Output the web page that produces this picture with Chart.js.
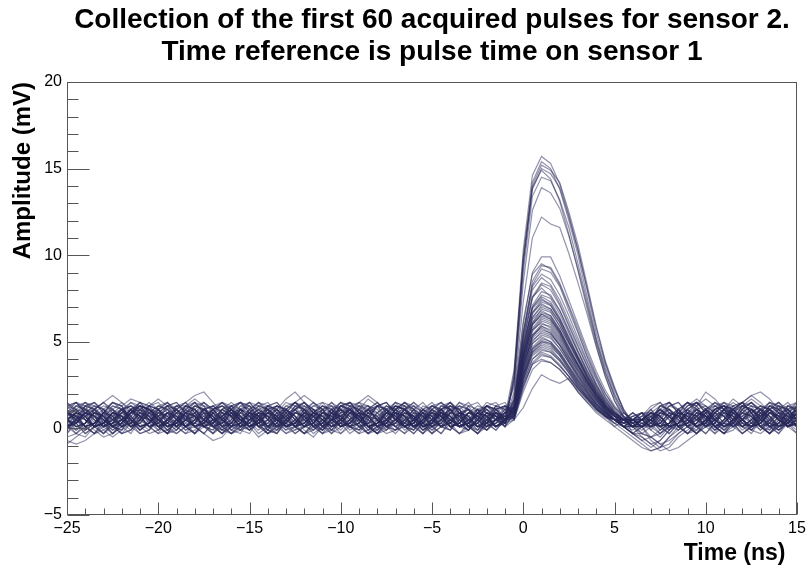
<!DOCTYPE html>
<html>
<head>
<meta charset="utf-8">
<title>Sensor 2 pulses</title>
<script src="https://cdn.jsdelivr.net/npm/chart.js@4.4.1/dist/chart.umd.min.js"></script>
<style>
  html, body { margin: 0; padding: 0; background: #fff; }
  #wrap { width: 810px; height: 567px; }
</style>
</head>
<body>
<div id="wrap"><canvas id="c" width="810" height="567"></canvas></div>
<script>
// Sampling times (ns), shared by every trace. Reference time = pulse time on sensor 1.
const TIME_NS = [
  -25,-24.5,-24,-23.5,-23,-22.5,-22,-21.5,-21,-20.5,
  -20,-19.5,-19,-18.5,-18,-17.5,-17,-16.5,-16,-15.5,
  -15,-14.5,-14,-13.5,-13,-12.5,-12,-11.5,-11,-10.5,
  -10,-9.5,-9,-8.5,-8,-7.5,-7,-6.5,-6,-5.5,
  -5,-4.5,-4,-3.5,-3,-2.5,-2,-1.5,-1,-0.5,
  0,0.5,1,1.5,2,2.5,3,3.5,4,4.5,
  5,5.5,6,6.5,7,7.5,8,8.5,9,9.5,
  10,10.5,11,11.5,12,12.5,13,13.5,14,14.5,15,
];

// Amplitudes (mV), one array per acquired pulse.
// each row: 49 baseline samples | 15 pulse samples (-0.5..6.5 ns) | 17 tail samples
const SENSOR2_PULSES = [
  [0.3,0.7,1.1,0.9,0.5,0.1,-0.1,0.3,0.9,1.3, 1.1,0.7,0.3,0.1,0.5,0.7,0.3,-0.1,-0.3,0.1, 0.7,1.1,1.3,0.9,0.3,0.1,0.5,0.9,0.7,0.3, 0.5,1.1,1.3,0.9,0.5,0.3,-0.1,0.1,0.7,0.9, 0.5,0.1,0.3,0.7,1.1,0.7,0.3,0.5,0.7,
   3.4,10.3,14.6,15.7,15.3,14.1,12.3,10.3,8.0,5.5,3.7,2.2,1.1,0.3,-0.1,
   0.3,0.9,1.1,0.7,0.1,-0.1,0.5,1.1,1.3,0.9,0.3,0.1,0.7,1.1,0.5,0.1,0.3],
  [0.9,0.5,0.1,-0.3,0.1,0.7,1.1,1.3,0.9,0.5, 0.5,0.9,0.3,-0.1,0.1,0.5,1.1,1.5,1.1,0.5, 0.1,0.3,0.9,0.7,0.3,-0.1,0.1,0.7,1.1,0.9, 0.3,0.1,0.5,1.1,1.3,0.7,0.3,0.1,0.5,0.9, 1.3,0.9,0.3,0.1,0.3,0.7,1.1,0.7,0.3,
   3.0,9.8,14.2,15.4,15.0,13.8,12.0,10.0,7.6,5.2,3.5,2.0,0.9,0.5,0.1,
   0.7,1.1,0.5,0.1,-0.3,-0.1,0.5,0.9,1.3,0.9,0.7,1.1,0.9,0.3,0.1,0.5,1.1],
  [0.1,0.3,0.9,1.3,1.1,0.5,0.1,0.3,0.7,0.5, 0.1,-0.3,-0.1,0.5,0.9,1.1,0.7,0.9,1.3,0.9, 0.5,0.3,0.1,0.7,1.1,0.5,0.3,0.7,1.3,1.1, 0.5,0.1,-0.1,0.3,0.9,1.3,0.9,0.3,0.1,0.5, 0.9,0.7,0.3,0.1,0.5,1.1,0.9,0.5,0.3,
   2.8,9.4,14.0,15.2,14.9,14.2,12.5,10.6,8.3,5.9,3.9,2.4,1.0,0.1,-0.5,
   -0.9,-1.3,-1.1,-0.5,-0.1,0.3,0.7,0.5,0.9,1.1,0.5,0.1,0.7,1.3,0.9,0.3,0.5],
  [0.5,0.1,-0.1,0.3,0.9,1.1,0.7,0.3,0.5,1.1, 0.9,0.3,0.1,0.5,0.7,0.3,0.1,0.7,1.3,1.5, 1.1,0.5,-0.1,-0.3,0.3,0.9,0.7,0.5,0.1,0.3, 0.9,1.1,0.7,0.1,0.3,0.7,1.3,1.1,0.5,0.3, 0.1,0.5,1.1,0.9,0.3,0.1,0.7,0.9,0.3,
   3.2,9.9,13.9,14.9,14.4,13.1,11.2,9.1,6.9,4.8,3.0,1.6,0.6,0.1,0.5,
   0.9,0.7,0.1,0.3,0.9,1.1,0.7,0.1,0.3,0.9,0.5,-0.1,-0.3,0.1,0.7,1.1,0.7],
  [-0.9,-0.5,-0.1,0.3,0.1,0.5,0.9,0.5,0.1,0.3, 0.9,1.3,1.1,0.5,0.3,0.1,0.5,1.1,0.7,0.1, 0.3,0.9,1.1,0.7,0.1,0.3,0.5,0.9,1.3,0.9, 0.3,0.1,0.7,1.1,0.5,0.1,-0.1,0.3,0.9,0.7, 0.5,0.1,0.3,0.9,1.1,0.7,0.3,0.5,0.7,
   2.6,9.0,13.4,14.5,14.3,13.2,11.6,9.5,7.3,5.1,3.3,1.8,0.7,-0.3,-0.7,
   -1.1,-0.7,-0.1,0.3,0.7,1.1,0.5,0.1,0.5,1.1,1.3,0.9,0.3,0.1,0.7,0.5,0.9],
  [0.7,1.1,0.9,0.5,0.1,0.3,0.5,1.1,0.7,0.1, -0.3,-0.1,0.5,0.9,1.1,0.5,0.3,0.7,1.1,1.5, 1.3,0.7,0.1,0.1,0.5,0.9,0.7,0.1,0.3,0.9, 0.5,0.7,1.1,1.3,0.9,0.3,0.1,0.5,0.7,0.3, 0.5,0.9,0.5,0.1,0.3,0.9,0.7,0.5,0.9,
   2.4,8.4,12.6,13.9,13.6,12.7,11.1,9.2,7.1,5.0,3.2,1.9,0.9,0.5,0.1,
   0.3,0.9,1.3,1.1,0.5,0.1,0.3,0.9,0.7,0.1,0.5,0.7,1.1,0.7,0.1,0.3,0.9],
  [0.1,0.5,1.1,0.7,0.3,-0.1,0.3,0.9,1.3,1.1, 0.5,0.1,0.3,0.7,0.9,0.5,0.1,-0.3,0.1,0.7, 0.5,0.9,0.7,0.1,0.3,1.1,1.5,1.1,0.5,0.1, 0.3,0.9,0.7,0.3,0.1,0.5,0.9,1.1,0.5,-0.1, 0.1,0.7,1.1,0.5,0.1,0.5,0.7,0.9,0.5,
   2.1,7.3,11.0,12.2,11.8,11.6,10.1,8.4,6.6,4.7,3.0,1.6,0.7,0.1,0.1,
   0.7,1.1,0.5,-0.1,0.3,0.9,0.7,0.1,0.3,0.9,1.3,1.1,0.5,0.3,0.1,0.7,1.1],
  [0.5,0.3,0.7,1.1,1.5,1.9,1.5,0.9,1.1,0.7, 0.3,0.1,0.5,0.9,0.7,0.1,0.3,0.7,1.1,0.5, 0.3,0.9,0.7,0.1,-0.3,0.1,0.7,1.1,0.9,0.5, 0.1,0.3,0.9,0.7,0.5,0.1,0.5,1.1,1.3,0.9, 0.3,0.1,0.5,0.9,0.7,0.1,0.1,0.5,0.7,
   1.6,6.0,9.0,9.9,9.9,8.8,7.4,6.0,4.6,3.3,2.2,1.3,0.7,0.5,0.1,
   0.5,0.9,0.7,0.1,0.5,1.3,2.1,1.7,1.1,0.9,0.5,0.1,0.3,0.9,0.5,0.1,0.5],
  [0.9,0.7,0.5,0.1,0.3,0.9,0.5,0.1,-0.3,-0.1, 0.5,0.9,1.3,1.1,0.5,0.1,0.3,0.9,0.7,0.5, 0.1,0.5,0.9,1.3,1.1,0.7,0.1,-0.1,0.3,0.9, 0.7,0.3,0.5,1.1,0.9,0.5,0.1,-0.3,0.1,0.5, 1.1,0.7,0.1,0.3,0.9,1.3,1.1,0.5,0.1,
   1.9,6.2,8.9,9.5,9.2,8.3,7.0,5.6,4.2,3.0,2.0,1.2,0.6,0.5,0.5,
   0.1,0.7,1.1,0.5,0.3,0.5,0.9,1.1,0.7,0.1,-0.3,0.1,0.7,1.1,1.3,0.9,0.3],
  [0.1,0.3,0.9,1.1,0.7,0.1,0.5,0.3,0.9,0.7, 0.1,0.5,1.1,0.7,0.1,-0.3,-0.7,-0.5,0.1,0.7, 0.9,0.5,0.3,0.1,0.7,1.1,1.3,0.9,0.3,0.1, 0.5,1.1,0.7,0.1,0.3,0.5,0.9,0.7,0.1,0.3, 0.9,1.1,0.5,0.1,0.3,0.9,0.7,0.1,0.5,
   1.4,5.4,8.3,9.2,9.0,8.2,6.8,5.5,4.1,2.9,1.8,1.0,0.5,0.1,0.5,
   0.9,0.3,0.1,-0.1,0.5,1.1,0.7,0.5,0.1,0.5,0.9,1.3,1.1,0.5,0.1,0.3,0.7],
  [-0.5,-0.3,0.1,0.7,1.1,0.7,0.1,0.3,0.9,0.5, 0.7,1.1,1.3,0.9,0.3,0.1,-0.1,0.5,1.1,0.7, 0.1,0.3,0.9,1.1,0.5,0.1,0.7,0.9,0.5,-0.1, -0.3,0.1,0.7,1.1,1.5,1.1,0.5,0.3,0.1,0.7, 0.9,0.5,0.1,0.3,0.7,1.1,0.5,0.1,0.3,
   1.5,5.3,8.0,8.7,8.3,7.4,6.2,5.0,3.8,2.6,1.7,1.0,0.5,0.5,0.9,
   0.7,0.1,0.3,0.9,0.7,0.1,0.5,1.1,1.3,0.7,0.3,0.1,0.5,1.1,0.7,0.5,0.1],
  [0.5,0.9,0.7,0.1,0.3,0.7,1.1,1.3,0.9,0.3, 0.1,0.5,0.9,0.7,0.1,0.3,0.9,1.1,0.7,0.1, 0.3,0.7,0.9,0.5,0.1,-0.3,0.1,0.7,1.1,0.5, 0.7,1.1,1.5,1.9,1.5,0.9,0.5,0.1,0.5,1.1, 0.7,0.1,-0.1,0.5,0.9,0.7,0.3,0.1,0.5,
   1.2,4.9,7.6,8.4,8.2,7.2,6.0,4.8,3.6,2.5,1.6,0.9,0.5,0.1,0.1,
   0.3,0.9,0.7,0.1,0.5,1.1,0.7,0.1,-0.3,0.1,0.7,1.1,0.5,0.1,0.3,0.9,1.3],
  [1.3,1.1,0.5,0.1,0.3,0.9,0.7,0.5,0.1,0.3, 0.9,0.7,0.1,0.5,1.1,1.5,1.1,0.5,0.1,-0.1, 0.5,0.9,0.7,0.1,0.3,0.9,1.1,0.7,0.1,0.5, 1.1,0.7,0.1,0.3,0.5,0.9,1.3,1.1,0.5,0.1, 0.3,0.9,0.7,0.1,0.5,1.1,0.9,0.5,0.3,
   1.7,5.2,7.6,8.1,7.6,6.8,5.7,4.5,3.4,2.4,1.5,0.9,0.5,0.5,0.5,
   0.9,0.7,0.1,0.3,0.5,1.1,1.3,0.9,0.3,0.1,0.5,1.1,0.7,0.1,-0.1,0.3,0.9],
  [0.1,-0.1,0.3,0.9,0.7,0.1,0.5,1.1,1.3,1.1, 0.5,0.3,0.1,0.7,0.9,0.5,0.1,0.3,0.9,1.1, 0.7,0.1,-0.3,-0.1,0.5,0.9,0.7,0.1,0.3,0.9, 1.3,1.1,0.5,0.1,0.3,0.9,0.7,0.3,0.9,0.7, 0.1,0.5,0.9,1.3,1.1,0.5,0.1,0.3,0.5,
   1.1,4.6,7.1,7.9,7.7,6.8,5.6,4.4,3.3,2.3,1.4,0.8,0.1,-0.3,0.1,
   -0.7,-1.1,-0.9,-0.3,0.1,0.7,1.1,0.5,0.1,0.5,0.9,0.7,0.1,0.3,0.9,1.1,0.5],
  [0.5,0.3,0.9,0.7,0.1,0.5,1.1,0.7,0.1,-0.3, -0.1,0.5,0.9,1.3,1.1,0.5,0.1,0.3,0.7,0.9, 0.5,0.1,0.5,1.1,1.7,2.1,1.5,0.9,0.7,0.9, 1.1,0.9,0.5,0.1,0.3,0.9,0.7,0.1,0.5,1.1, 0.9,0.5,0.1,0.3,0.9,0.7,0.1,0.5,0.9,
   1.4,4.7,7.0,7.6,7.3,6.4,5.3,4.2,3.2,2.2,1.4,0.9,0.5,0.5,0.9,
   0.5,0.1,0.3,0.9,0.7,0.5,0.1,0.5,1.1,1.3,0.9,0.3,0.1,0.5,0.9,0.7,0.1],
  [0.9,1.3,1.1,0.5,0.1,0.3,0.9,0.7,0.1,0.3, 0.7,0.9,0.5,0.1,0.5,1.1,1.3,0.9,0.3,-0.1, 0.1,0.7,0.9,0.5,0.1,0.3,1.1,0.7,0.5,0.1, 0.5,1.1,0.7,0.1,-0.3,-0.1,0.5,0.9,0.7,0.1, 0.3,0.9,1.3,1.1,0.5,0.1,0.3,0.9,0.5,
   1.0,4.3,6.7,7.4,7.2,6.3,5.2,4.1,3.0,2.1,1.3,0.7,0.5,0.1,0.5,
   0.1,0.5,1.1,0.7,0.1,0.3,0.9,1.3,1.1,0.5,0.7,0.3,0.5,1.1,0.7,0.1,0.3],
  [0.1,0.5,0.9,0.7,0.1,0.3,0.5,1.1,0.7,0.1, 0.3,0.9,1.1,1.5,1.9,2.1,1.5,0.9,0.7,1.1, 0.7,0.3,0.7,0.5,0.1,0.3,0.9,0.7,0.1,0.5, 0.7,1.1,0.5,0.1,0.3,0.9,0.7,0.1,-0.1,0.5, 0.9,0.7,0.1,0.3,0.9,1.1,0.7,0.1,0.5,
   1.3,4.5,6.7,7.2,6.9,6.1,5.0,4.0,3.0,2.0,1.3,0.8,0.5,0.5,0.1,
   0.5,0.9,0.7,0.1,0.3,0.9,0.7,0.1,0.5,1.1,1.5,1.9,2.1,1.7,1.1,0.7,0.5],
  [0.5,0.1,0.3,0.9,1.3,1.1,0.5,0.1,0.7,0.9, 0.3,-0.1,-0.3,0.1,0.7,1.1,0.5,0.3,0.9,0.7, 0.1,0.5,1.1,1.3,0.9,0.3,0.1,0.5,0.9,0.7, 0.1,0.3,0.7,1.1,0.5,0.1,0.5,1.1,1.5,1.1, 0.5,0.1,0.3,0.9,0.7,0.1,0.5,0.7,0.9,
   1.2,4.2,6.4,7.0,6.8,5.9,4.9,3.9,2.9,2.0,1.2,0.5,0.1,-0.3,-0.7,
   -0.5,-0.1,0.3,0.7,1.1,0.7,0.1,0.3,0.9,0.7,0.1,0.5,1.1,1.3,0.9,0.3,0.1],
  [0.9,0.7,0.1,0.3,0.9,0.5,0.7,0.1,0.3,0.9, 1.3,1.1,0.5,0.1,0.5,0.9,0.7,0.1,0.3,0.5, 1.1,0.7,0.1,0.3,0.9,1.1,0.5,0.1,-0.3,-0.1, 0.5,1.1,0.7,0.1,0.3,0.9,1.3,1.1,0.5,0.7, 0.1,0.3,0.9,0.7,0.1,0.5,1.1,0.7,0.1,
   0.9,3.9,6.1,6.9,6.7,5.9,4.9,3.9,2.9,2.0,1.3,0.9,0.5,0.9,0.5,
   0.5,1.1,0.7,0.1,0.3,0.7,1.1,0.5,0.1,0.5,0.9,0.7,0.1,-0.3,0.1,0.7,1.1],
  [0.5,0.9,1.3,1.1,0.5,0.1,0.3,0.9,0.7,0.1, 0.5,0.7,1.1,0.5,0.1,0.3,0.9,0.5,-0.1,0.3, 0.9,1.3,1.1,0.5,0.7,0.1,0.3,0.9,0.7,0.1, 0.5,0.9,1.1,0.7,0.1,0.3,0.9,0.5,0.1,0.5, 0.7,1.1,0.5,0.1,0.3,0.9,1.3,1.1,0.5,
   1.3,4.3,6.3,6.8,6.5,5.7,4.7,3.7,2.8,1.9,1.2,0.7,0.5,0.5,0.1,
   0.1,0.3,0.7,1.1,0.5,0.1,0.5,1.1,0.7,0.1,0.3,0.9,1.3,1.1,0.5,0.1,0.7],
  [0.1,0.3,0.7,1.1,0.7,0.1,0.5,0.9,1.1,0.5, 0.1,0.3,0.9,0.7,0.1,0.5,1.1,1.3,0.9,0.5, 0.7,0.1,0.3,0.9,0.5,0.1,-0.3,-0.1,0.5,1.1, 0.7,0.1,0.3,0.9,1.3,1.1,0.5,0.1,0.3,0.9, 0.5,0.7,0.1,0.3,0.9,0.7,0.1,0.5,0.9,
   1.0,4.0,6.0,6.6,6.4,5.6,4.6,3.7,2.7,1.9,1.2,0.7,0.1,0.1,0.5,
   0.7,0.1,0.3,0.9,1.3,1.7,1.3,0.9,0.3,0.1,0.5,1.1,0.7,0.1,0.3,0.9,0.5],
  [0.5,0.9,0.7,0.1,0.3,0.9,1.3,1.7,1.5,0.9, 0.5,0.1,0.3,0.9,0.7,0.1,0.5,0.5,1.1,0.7, 0.1,0.3,0.9,0.7,0.1,0.5,1.1,0.9,0.5,-0.1, 0.3,0.9,0.7,0.1,0.3,0.5,1.1,1.3,0.9,0.3, 0.1,0.5,1.1,0.7,0.1,0.3,0.9,0.7,0.5,
   1.2,4.2,6.0,6.5,6.3,5.5,4.5,3.6,2.7,1.9,1.2,0.8,0.5,0.5,0.1,
   0.9,0.5,0.1,0.3,0.9,0.7,0.1,0.5,1.1,0.9,0.3,0.1,0.5,1.1,1.5,1.1,0.5],
  [0.9,0.5,0.1,0.3,0.7,1.1,0.5,0.1,0.3,0.9, 1.1,0.5,0.1,-0.3,-0.1,0.5,0.9,0.7,0.1,0.3, 0.9,1.3,1.1,0.5,0.1,0.3,0.9,0.7,0.1,0.5, 0.7,1.1,0.5,0.1,0.3,0.9,0.7,0.1,0.5,1.1, 1.3,0.9,0.3,0.1,0.5,0.7,1.1,0.5,0.1,
   0.9,3.7,5.7,6.3,6.1,5.4,4.4,3.5,2.6,1.8,1.1,0.5,0.1,-0.3,-0.3,
   -0.5,-0.9,-1.3,-1.1,-0.7,-0.3,0.1,0.7,1.1,0.5,0.1,0.3,0.9,0.7,0.1,0.5,0.9],
  [0.5,0.1,0.3,0.9,0.7,0.1,0.3,0.9,1.3,1.1, 0.5,0.1,0.3,0.9,1.1,0.7,0.1,0.5,0.9,0.3, -0.1,0.3,0.5,1.1,0.7,0.1,0.3,0.9,1.3,0.9, 0.5,0.1,0.3,0.9,0.7,0.1,-0.1,0.5,1.1,0.7, 0.3,0.9,0.7,0.1,0.3,0.9,0.5,0.1,0.5,
   1.1,3.9,5.7,6.1,5.8,5.1,4.2,3.3,2.5,1.7,1.1,0.7,0.5,0.9,0.5,
   0.3,0.1,0.7,1.1,0.5,0.1,0.3,0.9,1.3,1.1,0.5,0.1,0.3,0.9,1.1,0.7,0.1],
  [-0.7,-0.9,-0.7,-0.3,-0.1,0.3,0.7,1.1,0.5,0.1, 0.3,0.9,0.7,0.5,0.1,0.3,0.9,1.3,1.1,0.5, 0.1,0.3,0.9,0.7,0.1,0.5,0.5,1.1,0.7,0.1, 0.3,0.9,1.3,1.1,0.5,0.1,0.3,0.9,0.7,0.1, 0.5,0.7,1.1,0.5,0.1,0.3,0.9,0.7,0.5,
   0.8,3.5,5.4,6.0,5.9,5.2,4.3,3.4,2.5,1.7,1.0,0.5,0.5,0.1,0.5,
   0.9,0.7,0.1,0.3,0.9,0.5,0.7,0.1,0.3,0.9,1.3,1.1,0.5,0.1,0.3,0.9,0.7],
  [0.9,0.7,0.5,0.1,0.3,0.9,0.7,0.1,0.3,0.9, 1.3,1.1,0.5,0.1,0.3,0.7,1.1,0.5,0.1,0.3, 0.9,0.7,0.1,0.5,1.1,1.5,1.9,1.5,0.9,0.5, 0.1,0.3,0.9,0.7,0.1,0.5,1.1,0.7,0.5,0.1, 0.3,0.9,0.7,0.1,0.3,0.9,1.3,1.1,0.5,
   1.0,3.6,5.3,5.9,5.6,4.9,4.1,3.2,2.4,1.6,1.0,0.5,0.1,0.5,0.5,
   0.5,0.1,0.3,0.9,0.7,0.1,0.5,0.7,1.1,0.5,0.1,0.3,0.9,0.7,0.1,0.5,1.1],
  [0.1,0.3,0.9,0.7,0.1,0.5,0.9,1.1,0.5,0.1, 0.3,0.9,0.7,0.1,0.5,1.1,0.7,0.1,-0.3,-0.1, 0.5,1.1,0.7,0.5,0.1,0.3,0.9,1.3,1.1,0.5, 0.1,0.3,0.9,0.7,0.1,0.5,1.1,0.7,0.1,0.3, 0.9,0.7,0.5,0.1,0.3,0.9,0.7,0.1,0.5,
   1.1,3.7,5.4,5.8,5.5,4.8,3.9,3.1,2.3,1.6,1.0,0.5,0.5,0.5,0.9,
   0.9,1.3,1.1,0.5,0.1,0.3,0.9,0.7,0.1,0.5,1.1,0.7,0.1,0.3,0.9,0.7,0.5],
  [0.5,0.9,0.7,0.1,0.3,0.5,1.1,0.7,0.1,0.3, 0.9,1.3,1.1,0.5,0.1,0.3,0.9,0.5,0.1,0.5, 0.7,1.1,0.5,0.1,0.3,0.9,0.7,0.1,0.5,1.1, 1.3,0.9,0.5,0.7,0.1,0.3,0.9,0.7,0.1,0.5, 1.1,0.7,0.1,-0.3,-0.1,0.5,0.9,0.7,0.5,
   0.7,3.2,5.0,5.6,5.4,4.8,3.9,3.0,2.2,1.5,0.9,0.5,0.1,0.1,0.5,
   0.1,0.3,0.9,0.7,0.1,0.5,1.1,1.3,0.9,0.3,0.1,0.5,0.7,1.1,0.5,0.1,0.3],
  [0.9,0.5,0.1,0.3,0.9,1.3,1.1,0.5,0.1,0.3, 0.7,1.1,0.5,0.1,0.3,0.9,0.7,0.1,0.5,1.1, 0.9,0.5,0.1,0.3,0.9,0.7,0.1,0.5,0.7,1.1, 0.5,0.1,0.3,0.9,1.3,1.1,0.5,0.1,0.3,0.9, 0.7,0.1,0.5,0.7,1.1,0.5,0.1,0.3,0.9,
   1.0,3.5,5.1,5.5,5.3,4.6,3.8,3.0,2.2,1.5,0.9,0.5,0.5,0.1,0.1,
   0.5,1.1,0.7,0.1,0.3,0.9,0.7,0.1,-0.3,-0.1,0.5,1.1,0.7,0.1,0.3,0.9,1.3],
  [0.5,0.7,0.1,0.3,0.9,0.7,0.1,0.5,1.1,0.9, 0.5,0.1,0.3,0.9,1.3,1.1,0.5,0.1,0.3,0.9, 0.7,0.1,0.5,0.5,1.1,0.7,0.1,0.3,0.9,0.7, 0.1,0.5,0.9,1.1,0.5,0.1,0.3,0.9,0.7,0.1, 0.5,1.1,1.3,0.9,0.5,0.1,0.3,0.9,0.7,
   0.8,3.2,4.9,5.4,5.2,4.6,3.8,2.9,2.1,1.4,0.9,0.5,0.1,-0.3,0.1,
   -0.5,-0.3,0.1,0.7,1.1,0.5,0.1,0.3,0.9,0.7,0.1,0.5,1.1,0.9,0.5,0.1,0.3],
  [0.1,0.5,0.9,0.7,0.1,0.3,0.9,1.3,1.1,0.5, 0.1,0.3,0.5,1.1,0.7,0.1,0.3,0.9,0.7,0.1, 0.5,0.9,1.3,1.1,0.5,0.1,0.3,0.9,0.7,0.5, 0.1,0.3,0.9,0.7,0.1,-0.3,-0.1,0.5,1.1,0.7, 0.1,0.3,0.9,0.7,0.5,0.1,0.3,0.9,0.7,
   0.9,3.3,4.9,5.3,5.0,4.4,3.6,2.8,2.1,1.4,0.9,0.5,0.5,0.5,0.5,
   0.9,0.7,0.1,0.3,0.9,1.3,1.7,1.3,0.9,0.3,0.1,0.5,1.1,0.7,0.1,0.3,0.9],
  [0.9,1.1,0.5,0.1,0.3,0.9,0.7,0.1,0.5,1.1, 0.7,0.1,0.3,0.9,1.3,1.1,0.5,0.7,0.1,0.3, 0.9,0.7,0.1,0.5,1.1,0.7,0.1,0.3,0.9,1.3, 1.1,0.5,0.1,0.3,0.7,1.1,0.5,0.1,0.3,0.9, 0.7,0.1,0.5,0.9,1.1,0.5,0.1,0.3,0.7,
   0.7,3.0,4.6,5.1,4.9,4.3,3.5,2.7,2.0,1.4,0.8,0.5,0.1,0.5,0.9,
   0.3,0.1,0.7,1.1,0.5,0.1,0.3,0.9,0.7,0.1,0.5,0.9,1.3,1.1,0.5,0.1,0.3],
  [0.5,0.1,0.3,0.9,0.7,0.1,-0.3,-0.1,0.5,1.1, 0.7,0.1,0.3,0.9,0.7,0.5,1.1,1.3,0.9,0.3, 0.1,0.5,1.1,0.7,0.1,0.3,0.9,0.7,0.1,0.5, 0.9,1.3,1.1,0.5,0.1,0.3,0.5,1.1,0.7,0.1, 0.3,0.9,0.7,0.1,0.5,0.9,1.3,1.1,0.5,
   0.9,3.1,4.6,5.0,4.8,4.2,3.4,2.6,1.9,1.3,0.8,0.5,0.5,0.1,0.5,
   0.1,0.3,0.9,0.7,0.5,0.1,0.3,0.9,1.3,1.1,0.5,0.1,0.3,0.9,0.7,0.1,0.5],
  [1.3,1.5,1.1,0.7,0.5,0.1,0.3,0.9,0.7,0.1, 0.3,0.9,0.7,0.1,0.5,1.1,1.3,0.9,0.3,0.1, 0.5,0.7,1.1,0.5,0.1,0.3,0.9,0.7,0.1,0.5, 1.1,0.7,0.1,0.3,0.9,1.3,1.1,0.5,0.1,0.3, 0.7,0.9,0.5,0.1,0.3,0.9,0.7,0.1,0.5,
   0.6,2.8,4.4,4.9,4.7,4.2,3.4,2.6,1.9,1.3,0.8,0.5,0.1,0.1,-0.3,
   -0.5,-0.9,-0.7,-0.3,0.1,0.7,1.1,0.5,0.1,0.3,0.9,1.3,1.1,0.5,0.1,0.3,0.9],
  [0.5,0.9,0.7,0.1,0.3,0.9,1.1,0.5,0.1,0.3, 0.9,0.7,0.1,0.5,0.7,1.1,0.5,0.1,0.3,0.9, 1.3,1.1,0.5,0.1,0.3,0.9,0.7,0.1,0.5,0.7, 1.1,0.5,0.1,-0.3,-0.1,0.5,0.9,0.7,0.1,0.3, 0.9,1.3,1.1,0.5,0.1,0.3,0.9,0.7,0.5,
   0.8,3.0,4.4,4.8,4.6,4.0,3.3,2.5,1.8,1.2,0.7,0.5,0.5,0.9,0.5,
   0.1,0.3,0.9,0.7,0.1,0.5,1.1,0.7,0.1,0.3,0.5,0.9,1.3,1.1,0.5,0.1,0.3],
  [0.1,0.3,0.9,0.7,0.5,0.1,0.3,0.9,1.3,1.1, 0.5,0.1,0.3,0.9,0.7,0.1,0.5,0.7,1.1,0.5, 0.1,0.3,0.9,1.3,1.1,0.5,0.1,0.3,0.9,0.7, 0.1,0.5,1.1,0.7,0.5,0.1,0.3,0.9,0.7,0.1, 0.5,1.1,0.7,0.1,0.3,0.9,0.7,0.1,0.5,
   0.7,2.8,4.2,4.6,4.4,3.9,3.2,2.4,1.8,1.2,0.7,0.1,-0.3,-0.7,-1.1,
   -1.3,-1.1,-0.5,-0.1,0.3,0.7,1.1,0.5,0.1,0.3,0.9,0.7,0.1,0.5,1.1,1.3,0.9],
  [0.9,0.7,0.1,0.3,0.9,0.7,0.1,0.5,1.1,1.3, 1.1,0.5,0.7,0.1,0.3,0.9,0.7,0.1,0.5,1.1, 0.7,0.1,0.3,0.9,1.1,0.5,0.1,0.3,0.9,0.7, 0.1,0.5,0.9,1.3,1.1,0.5,0.1,0.3,0.5,1.1, 0.7,0.1,0.3,0.9,0.7,0.1,0.5,0.9,0.7,
   0.6,2.6,4.0,4.4,4.2,3.7,3.0,2.3,1.7,1.1,0.7,0.5,0.5,0.1,0.5,
   0.5,1.1,0.7,0.1,0.3,0.9,0.7,0.1,0.5,1.1,1.5,1.9,1.5,0.9,0.5,0.1,0.3],
  [0.5,0.1,0.3,0.9,0.7,0.1,0.5,1.1,0.7,0.5, 0.1,0.3,0.9,1.3,1.1,0.5,0.1,0.3,0.9,0.7, 0.1,0.5,0.7,1.1,0.5,0.1,0.3,0.9,1.3,1.1, 0.5,0.1,0.3,0.9,0.7,0.1,0.5,1.1,0.7,0.1, 0.3,0.5,0.9,0.7,0.1,0.3,0.9,0.7,0.1,
   0.5,2.3,3.7,4.2,4.1,3.6,3.0,2.3,1.7,1.1,0.7,0.5,0.1,0.5,0.5,
   0.9,0.7,0.1,0.3,0.9,0.7,0.1,0.5,1.1,0.7,0.5,0.1,0.3,0.9,0.7,0.1,0.5],
  [0.1,0.5,0.9,1.3,1.1,0.5,0.1,0.3,0.9,0.7, 0.1,0.5,1.1,0.7,0.1,0.3,0.5,1.1,0.7,0.1, 0.3,0.9,0.7,0.1,0.5,1.1,1.5,1.1,0.5,0.1, 0.3,0.9,0.7,0.5,0.1,0.3,0.9,0.7,0.1,0.5, 1.1,0.7,0.1,0.3,0.9,0.7,0.5,0.1,0.3,
   0.7,2.5,3.7,4.0,3.8,3.4,2.8,2.1,1.5,1.0,0.6,0.5,0.9,0.5,0.1,
   0.5,0.1,0.3,0.9,0.7,0.1,0.5,1.1,1.3,1.1,0.5,0.1,0.3,0.9,0.7,0.1,0.5],
  [0.5,0.9,0.7,0.1,0.3,0.9,0.7,0.1,0.5,0.7, 1.1,0.5,0.1,0.3,0.9,1.3,1.1,0.5,0.1,0.3, 0.9,0.7,0.1,0.5,0.7,1.1,0.5,0.1,0.3,0.9, 0.7,0.1,-0.3,-0.1,0.5,1.1,0.7,0.1,0.3,0.9, 1.3,1.1,0.5,0.1,0.3,0.9,0.7,0.1,0.5,
   0.5,1.2,2.3,3.1,2.8,2.6,2.9,2.1,1.5,0.9,0.5,0.1,0.5,0.1,0.5,
   0.9,0.7,0.1,0.3,0.9,0.7,0.1,0.5,0.7,1.1,0.5,0.1,0.3,0.9,1.3,1.1,0.5],
  [1.5,1.1,0.5,-0.1,-0.5,-0.3,0.3,0.9,1.5,1.3, 0.7,0.1,-0.3,0.1,0.9,1.5,1.1,0.5,-0.1,0.3, 1.1,1.5,0.9,0.3,-0.3,-0.1,0.7,1.3,1.5,0.9, 0.3,-0.3,0.1,0.7,1.3,1.1,0.5,-0.1,0.3,1.1, 1.5,0.9,0.1,-0.3,0.3,1.1,1.3,0.7,0.3,
   2.9,9.6,13.8,15.0,14.7,13.9,12.2,10.3,8.1,5.8,3.8,2.3,1.1,0.3,-0.3,
   0.1,0.7,1.3,1.5,0.9,0.1,-0.3,0.3,1.1,1.5,1.1,0.3,-0.1,0.5,1.3,1.1,0.5],
  [-0.3,0.3,1.1,1.5,1.1,0.3,-0.3,-0.1,0.7,1.3, 1.7,1.3,0.5,-0.1,0.3,1.1,0.9,0.3,-0.3,0.1, 0.9,1.5,1.3,0.5,-0.1,0.1,0.9,1.5,1.1,0.3, -0.3,0.3,1.1,1.7,1.3,0.5,0.1,0.7,1.3,0.9, 0.1,-0.3,0.3,1.1,1.5,0.9,0.3,-0.1,0.5,
   1.3,5.5,8.5,9.4,9.3,8.4,7.1,5.8,4.4,3.1,2.0,1.2,0.7,0.3,0.5,
   1.1,1.5,0.9,0.1,-0.3,0.3,1.1,1.5,1.1,0.3,-0.3,0.1,0.9,1.5,1.3,0.5,0.1],
  [0.9,1.5,1.3,0.5,-0.1,-0.5,-0.1,0.7,1.3,1.1, 0.5,-0.1,0.3,1.1,1.5,0.9,0.1,-0.3,0.3,1.1, 1.3,0.7,-0.1,-0.3,0.5,1.3,1.5,0.9,0.1,-0.1, 0.7,1.3,1.1,0.3,-0.3,0.1,0.9,1.5,1.3,0.5, -0.1,0.3,1.1,1.3,0.7,0.1,-0.1,0.5,1.1,
   1.6,5.6,8.2,8.9,8.6,7.7,6.5,5.2,3.9,2.8,1.8,1.1,0.5,0.3,0.7,
   0.5,-0.1,0.3,1.1,1.5,1.1,0.3,-0.3,0.1,0.9,1.5,1.3,0.5,-0.1,0.5,1.3,1.1],
  [0.3,-0.3,-0.5,0.1,0.9,1.5,1.3,0.5,-0.1,0.3, 1.1,1.5,0.9,0.1,-0.3,0.3,1.1,1.3,0.7,-0.1, -0.3,0.5,1.3,1.5,0.9,0.3,-0.3,0.1,0.9,1.5, 1.1,0.3,-0.1,0.5,1.3,1.5,0.9,0.1,-0.3,0.3, 1.1,1.5,1.1,0.3,-0.1,0.5,1.3,0.9,0.3,
   1.3,5.0,7.5,8.3,8.0,7.1,5.9,4.7,3.6,2.5,1.6,0.9,0.3,0.1,0.3,
   -0.1,0.5,1.3,1.5,0.9,0.1,-0.3,0.3,1.1,1.7,1.3,0.5,-0.1,0.3,1.1,1.5,0.9],
  [1.1,0.5,-0.1,0.3,1.1,1.5,1.1,0.3,-0.3,-0.1, 0.7,1.3,1.5,0.9,0.1,-0.3,0.3,1.1,1.5,1.1, 0.3,-0.1,0.5,1.3,1.1,0.5,-0.1,-0.5,0.1,0.9, 1.5,1.3,0.5,-0.1,0.3,1.1,1.3,0.7,0.1,-0.3, 0.3,1.1,1.5,0.9,0.1,-0.1,0.7,1.3,1.1,
   1.2,4.7,7.0,7.7,7.5,6.6,5.5,4.4,3.3,2.3,1.5,0.9,0.5,0.7,0.9,
   0.3,-0.3,0.1,0.9,1.5,1.3,0.5,-0.1,0.3,1.1,1.5,0.9,0.1,-0.3,0.5,1.3,1.5],
  [0.5,1.3,1.5,0.9,0.1,-0.3,0.3,1.1,1.3,0.7, 0.1,-0.3,0.5,1.3,1.7,1.3,0.5,-0.1,0.3,1.1, 0.9,0.3,-0.3,0.1,0.9,1.5,1.1,0.3,-0.1,0.5, 1.3,1.5,0.9,0.1,-0.3,0.3,1.1,1.5,1.1,0.3, -0.3,0.1,0.9,1.5,1.3,0.5,-0.1,0.3,0.9,
   1.5,4.8,6.9,7.5,7.1,6.2,5.1,4.1,3.1,2.2,1.4,0.7,0.1,-0.3,-0.5,
   -0.9,-0.7,-0.1,0.7,1.3,1.5,0.9,0.1,-0.3,0.3,1.1,1.5,1.1,0.3,-0.1,0.5,1.3],
  [-0.1,0.7,1.3,1.1,0.3,-0.3,0.1,0.9,1.5,1.3, 0.5,-0.1,0.3,1.1,1.5,0.9,0.1,-0.3,0.5,1.3, 1.5,0.9,0.1,-0.1,0.7,1.3,1.1,0.3,-0.3,0.1, 0.9,1.5,1.3,0.5,-0.1,0.3,1.1,1.5,0.9,0.1, -0.3,0.5,1.3,1.1,0.5,-0.1,0.3,1.1,1.3,
   1.1,4.4,6.6,7.3,7.1,6.3,5.2,4.1,3.1,2.1,1.3,0.7,0.3,0.3,0.5,
   0.7,0.1,-0.3,0.3,1.1,1.5,1.1,0.3,-0.1,0.5,1.3,1.5,0.9,0.1,-0.3,0.3,1.1],
  [1.3,0.7,0.1,-0.3,0.3,1.1,1.5,1.1,0.3,-0.1, 0.5,1.3,1.5,0.9,0.1,-0.3,0.3,1.1,1.3,0.7, 0.1,-0.5,-0.1,0.7,1.3,1.5,0.9,0.1,-0.1,0.7, 1.3,1.1,0.3,-0.3,0.1,0.9,1.5,1.3,0.5,-0.1, 0.3,1.1,1.5,0.9,0.1,-0.3,0.5,1.3,1.1,
   1.0,4.2,6.4,7.1,6.9,6.1,5.0,4.0,3.0,2.1,1.3,0.8,0.5,0.1,0.3,
   0.5,1.3,1.5,0.9,0.1,-0.3,0.3,1.1,1.5,1.1,0.3,-0.1,0.5,1.3,1.1,0.3,-0.1],
  [0.1,-0.3,0.3,1.1,1.5,1.1,0.3,-0.1,0.5,1.3, 1.5,0.9,0.1,-0.3,0.3,1.1,1.3,0.7,-0.1,-0.3, 0.5,1.3,1.5,0.9,0.1,0.3,1.1,1.5,1.1,0.3, -0.1,0.5,1.3,1.3,0.7,0.1,-0.3,0.3,1.1,1.5, 0.9,0.1,-0.1,0.7,1.3,1.1,0.3,-0.1,0.5,
   1.2,4.1,6.1,6.7,6.5,5.7,4.7,3.7,2.8,1.9,1.2,0.7,0.3,0.5,0.7,
   1.3,1.5,0.9,0.1,-0.3,0.3,1.1,1.5,1.1,0.3,-0.3,0.1,0.9,1.5,1.3,0.5,0.1],
  [0.7,1.3,1.1,0.3,-0.3,0.1,0.9,1.5,1.3,0.5, -0.1,0.3,1.1,1.5,0.9,0.1,-0.3,0.5,1.3,1.5, 0.9,0.1,-0.3,0.3,1.1,1.5,1.1,0.3,-0.1,0.5, 1.3,1.1,0.3,-0.3,0.1,0.9,1.5,1.3,0.5,-0.1, 0.3,1.1,1.3,0.7,0.1,-0.3,0.3,1.1,1.3,
   0.9,3.8,5.8,6.4,6.2,5.5,4.5,3.6,2.7,1.8,1.1,0.7,0.5,0.3,0.1,
   0.5,-0.1,0.3,1.1,1.5,0.9,0.1,-0.3,0.5,1.3,1.5,0.9,0.1,-0.1,0.7,1.3,1.1],
  [1.1,1.5,0.9,0.1,-0.3,0.3,1.1,1.3,0.7,0.1, -0.3,0.5,1.3,1.5,0.9,0.1,-0.1,0.7,1.3,1.1, 0.3,-0.3,0.1,0.9,1.5,1.3,0.5,-0.1,0.3,1.1, 1.5,0.9,0.1,-0.3,0.5,1.3,1.1,0.3,-0.1,0.5, 1.3,1.5,0.9,0.1,-0.1,0.7,1.3,0.9,0.3,
   1.0,3.8,5.6,6.2,6.0,5.3,4.4,3.4,2.6,1.8,1.1,0.5,0.1,-0.1,0.3,
   0.1,0.9,1.5,1.1,0.3,-0.3,0.1,0.9,1.5,1.3,0.5,-0.1,0.3,1.1,1.5,0.9,0.1],
  [-0.1,0.5,1.3,1.5,0.9,0.1,-0.3,0.3,1.1,1.5, 1.1,0.3,-0.1,0.5,1.3,1.1,0.3,-0.3,0.1,0.9, 1.5,1.3,0.5,-0.1,0.3,1.1,1.5,0.9,0.1,-0.3, 0.5,1.3,1.5,0.9,0.1,-0.1,0.7,1.3,1.1,0.3, -0.3,0.1,0.9,1.5,1.1,0.3,-0.1,0.5,1.1,
   0.8,3.4,5.3,5.9,5.7,5.0,4.1,3.3,2.4,1.7,1.0,0.7,0.5,0.7,0.9,
   -0.1,-0.5,0.1,0.9,1.5,1.3,0.5,-0.1,0.3,1.1,1.5,0.9,0.1,-0.3,0.3,1.1,1.5],
  [0.9,0.3,-0.3,0.1,0.9,1.5,1.3,0.5,-0.1,0.3, 1.1,1.5,1.1,0.3,-0.3,0.1,0.9,1.5,1.3,0.5, -0.1,0.3,1.1,1.3,0.7,0.1,-0.3,0.3,1.1,1.5, 0.9,0.1,-0.1,0.7,1.3,1.5,0.9,0.1,-0.3,0.3, 1.1,1.5,1.1,0.3,-0.1,0.5,1.3,1.1,0.5,
   1.0,3.5,5.2,5.7,5.5,4.8,4.0,3.1,2.3,1.6,1.0,0.5,0.3,0.1,0.5,
   1.1,0.5,-0.1,0.3,1.1,1.5,0.9,0.1,-0.3,0.5,1.3,1.7,1.3,0.5,-0.1,0.3,0.9],
  [0.3,1.1,1.5,1.1,0.3,-0.3,0.1,0.9,1.3,0.7, 0.1,-0.3,0.5,1.3,1.5,0.9,0.1,-0.1,0.7,1.3, 1.1,0.3,-0.3,0.1,0.9,1.5,1.3,0.5,-0.1,0.3, 1.1,1.5,0.9,0.1,-0.3,0.5,1.3,1.1,0.3,-0.1, 0.5,1.3,1.5,0.9,0.1,-0.3,0.3,1.1,1.3,
   0.8,3.1,4.7,5.2,5.0,4.4,3.6,2.8,2.1,1.4,0.9,0.5,0.3,0.5,0.3,
   0.5,1.3,1.1,0.3,-0.3,0.1,0.9,1.5,1.3,0.5,-0.1,0.3,1.1,1.5,0.9,0.1,-0.3],
  [1.5,0.9,0.1,-0.3,0.5,1.3,1.1,0.3,-0.1,0.5, 1.3,1.5,0.9,0.1,-0.3,0.3,1.1,1.5,1.1,0.3, -0.1,0.5,1.3,1.5,0.9,0.1,-0.3,0.3,1.1,1.3, 0.7,0.1,-0.3,0.5,1.3,1.5,0.9,0.1,-0.1,0.7, 1.3,1.1,0.3,-0.3,0.1,0.9,1.5,1.3,0.5,
   0.6,2.9,4.5,5.0,4.9,4.3,3.5,2.7,2.0,1.3,0.8,0.3,-0.1,-0.5,-0.9,
   -1.3,-1.1,-0.5,0.1,0.9,1.5,1.3,0.5,-0.1,0.3,1.1,1.5,0.9,0.1,-0.3,0.5,1.3],
  [0.1,0.9,1.5,1.3,0.5,-0.1,0.3,1.1,1.5,0.9, 0.1,-0.3,0.5,1.3,1.1,0.3,-0.3,0.1,0.9,1.5, 1.3,0.5,-0.1,0.3,1.1,1.5,0.9,0.1,-0.3,0.5, 1.3,1.5,0.9,0.1,-0.1,0.7,1.3,1.1,0.3,-0.3, 0.1,0.9,1.5,1.1,0.3,-0.1,0.5,1.3,1.5,
   0.7,2.8,4.3,4.7,4.5,4.0,3.3,2.5,1.8,1.2,0.7,0.5,0.3,0.7,0.5,
   0.9,0.1,-0.3,0.3,1.1,1.5,1.1,0.3,-0.1,0.5,1.3,1.1,0.3,-0.3,0.1,0.9,1.5],
  [1.3,1.5,0.9,0.1,-0.3,0.3,1.1,1.5,1.1,0.3, -0.1,0.5,1.3,1.3,0.7,0.1,-0.3,0.3,1.1,1.5, 0.9,0.1,-0.1,0.7,1.3,1.1,0.3,-0.3,0.1,0.9, 1.5,1.3,0.5,-0.1,0.3,1.1,1.5,0.9,0.1,-0.3, 0.5,1.3,1.1,0.3,-0.1,0.5,1.3,1.5,0.9,
   0.6,2.6,4.0,4.5,4.4,3.9,3.2,2.4,1.8,1.2,0.7,0.3,0.5,0.3,0.1,
   0.3,1.1,1.5,0.9,0.1,-0.3,0.5,1.3,1.5,0.9,0.1,-0.1,0.7,1.3,1.1,0.3,-0.3],
  [0.5,-0.1,0.3,1.1,1.5,0.9,0.1,-0.3,0.5,1.3, 1.1,0.3,-0.1,0.5,1.3,1.5,0.9,0.1,-0.3,0.3, 1.1,1.5,1.1,0.3,-0.1,0.5,1.3,1.1,0.3,-0.3, 0.1,0.9,1.5,1.3,0.5,-0.1,0.3,1.1,1.5,0.9, 0.1,-0.3,0.5,1.3,1.1,0.3,-0.1,0.5,1.3,
   0.5,2.4,3.8,4.3,4.1,3.6,3.0,2.3,1.7,1.1,0.7,0.5,0.3,0.5,0.7,
   1.1,0.3,-0.1,0.5,1.3,1.5,0.9,0.1,-0.3,0.3,1.1,1.5,1.1,0.3,-0.1,0.5,1.1],
  [1.1,0.3,-0.3,0.1,0.9,1.5,1.3,0.5,-0.1,0.3, 1.1,1.3,0.7,0.1,-0.3,0.5,1.3,1.5,0.9,0.1, -0.1,0.7,1.3,1.1,0.3,-0.3,0.1,0.9,1.5,1.3, 0.5,-0.1,0.3,1.1,1.5,0.9,0.1,-0.3,0.5,1.3, 1.1,0.3,-0.1,0.5,1.3,1.5,0.9,0.1,0.3,
   0.5,2.1,3.4,3.9,3.8,3.4,2.8,2.2,1.6,1.1,0.7,0.3,0.1,0.3,0.5,
   0.5,1.3,1.5,0.9,0.1,-0.3,0.3,1.1,1.3,0.7,0.1,-0.3,0.5,1.3,1.5,0.9,0.1],
  [-0.3,0.5,1.3,1.5,0.9,0.1,-0.1,0.7,1.3,1.1, 0.3,-0.3,0.1,0.9,1.5,1.3,0.5,-0.1,0.3,1.1, 1.5,0.9,0.1,-0.3,0.5,1.3,1.1,0.3,-0.1,0.5, 1.3,1.5,0.9,0.1,-0.3,0.3,1.1,1.5,1.1,0.3, -0.1,0.5,1.3,1.1,0.3,-0.3,0.1,0.9,1.3,
   1.1,4.0,6.0,6.6,6.3,5.6,4.6,3.6,2.7,1.9,1.2,0.7,0.5,0.5,0.3,
   0.1,-0.3,0.3,1.1,1.5,1.1,0.3,-0.1,0.5,1.3,1.5,0.9,0.1,-0.3,0.3,1.1,1.3],
];

const X_MAJOR_TICKS_NS = 5;
const Y_MAJOR_TICKS_MV = 5;

const FONT = "'Liberation Sans', Arial, Helvetica, sans-serif";
const TRACE_COLOR = 'rgba(40,40,90,0.5)';
const AXIS_COLOR = '#555';

SENSOR2_PULSES.forEach((tr, k) => {
  if (tr.length !== TIME_NS.length) console.warn('trace', k, 'has', tr.length, 'samples');
});

const fmtTick = (v) => (v < 0 ? '\u2212' + Math.abs(v) : String(v));

// ROOT-like frame: box plus inward major/minor ticks on the left and bottom axes
const rootFrame = {
  id: 'rootFrame',
  afterDatasetsDraw(chart) {
    const { ctx, chartArea: a, scales: { x, y } } = chart;
    const L = Math.round(a.left) + 0.5, R = Math.round(a.right) - 0.5;
    const T = Math.round(a.top) + 0.5, B = Math.round(a.bottom) - 0.5;
    ctx.save();
    ctx.strokeStyle = AXIS_COLOR;
    ctx.lineWidth = 1;
    ctx.strokeRect(L, T, R - L, B - T);
    ctx.beginPath();
    for (let v = x.min; v <= x.max; v += 1) {
      const px = Math.round(x.getPixelForValue(v)) + 0.5;
      const len = v % X_MAJOR_TICKS_NS === 0 ? 12 : 6;
      ctx.moveTo(px, B);
      ctx.lineTo(px, B - len);
    }
    for (let v = y.min; v <= y.max; v += 1) {
      const py = Math.round(y.getPixelForValue(v)) + 0.5;
      const len = v % Y_MAJOR_TICKS_MV === 0 ? 22 : 11;
      ctx.moveTo(L, py);
      ctx.lineTo(L + len, py);
    }
    ctx.stroke();
    ctx.restore();
  },
};

Chart.defaults.font.family = FONT;
Chart.defaults.color = '#000';

const datasets = SENSOR2_PULSES.map((trace, k) => ({
  label: 'pulse ' + (k + 1),
  data: TIME_NS.map((t, i) => ({ x: t, y: trace[i] })),
  borderColor: TRACE_COLOR,
  borderWidth: 1.2,
  pointRadius: 0,
  tension: 0,
  fill: false,
}));

new Chart(document.getElementById('c'), {
  type: 'line',
  data: { datasets },
  plugins: [rootFrame],
  options: {
    responsive: false,
    animation: false,
    events: [],
    layout: { padding: { left: 0, right: 13, top: 0, bottom: 0 } },
    plugins: {
      legend: { display: false },
      tooltip: { enabled: false },
      title: {
        display: true,
        fullSize: false,
        text: ['Collection of the first 60 acquired pulses for sensor 2.', 'Time reference is pulse time on sensor 1'],
        color: '#000',
        font: { size: 28, weight: 'bold', lineHeight: 32 / 28 },
        padding: { top: 4, bottom: 14 },
      },
    },
    scales: {
      x: {
        type: 'linear',
        min: -25,
        max: 15,
        grid: { display: false, drawTicks: false },
        border: { display: false },
        ticks: {
          stepSize: X_MAJOR_TICKS_NS,
          maxRotation: 0,
          autoSkip: false,
          padding: 4,
          font: { size: 16 },
          color: '#000',
          callback: fmtTick,
        },
        title: {
          display: true,
          text: 'Time (ns)\u2002',
          align: 'end',
          color: '#000',
          font: { size: 23, weight: 'bold' },
          padding: { top: 0, bottom: 0 },
        },
        afterFit(s) { s.height = 52; },
      },
      y: {
        min: -5,
        max: 20,
        grid: { display: false, drawTicks: false },
        border: { display: false },
        ticks: {
          stepSize: Y_MAJOR_TICKS_MV,
          padding: 5,
          font: { size: 16 },
          color: '#000',
          callback: fmtTick,
        },
        title: {
          display: true,
          text: 'Amplitude (mV)',
          align: 'end',
          color: '#000',
          font: { size: 24, weight: 'bold' },
          padding: { top: 9, bottom: 0 },
        },
        afterFit(s) { s.width = 67; },
      },
    },
  },
});
</script>
</body>
</html>
